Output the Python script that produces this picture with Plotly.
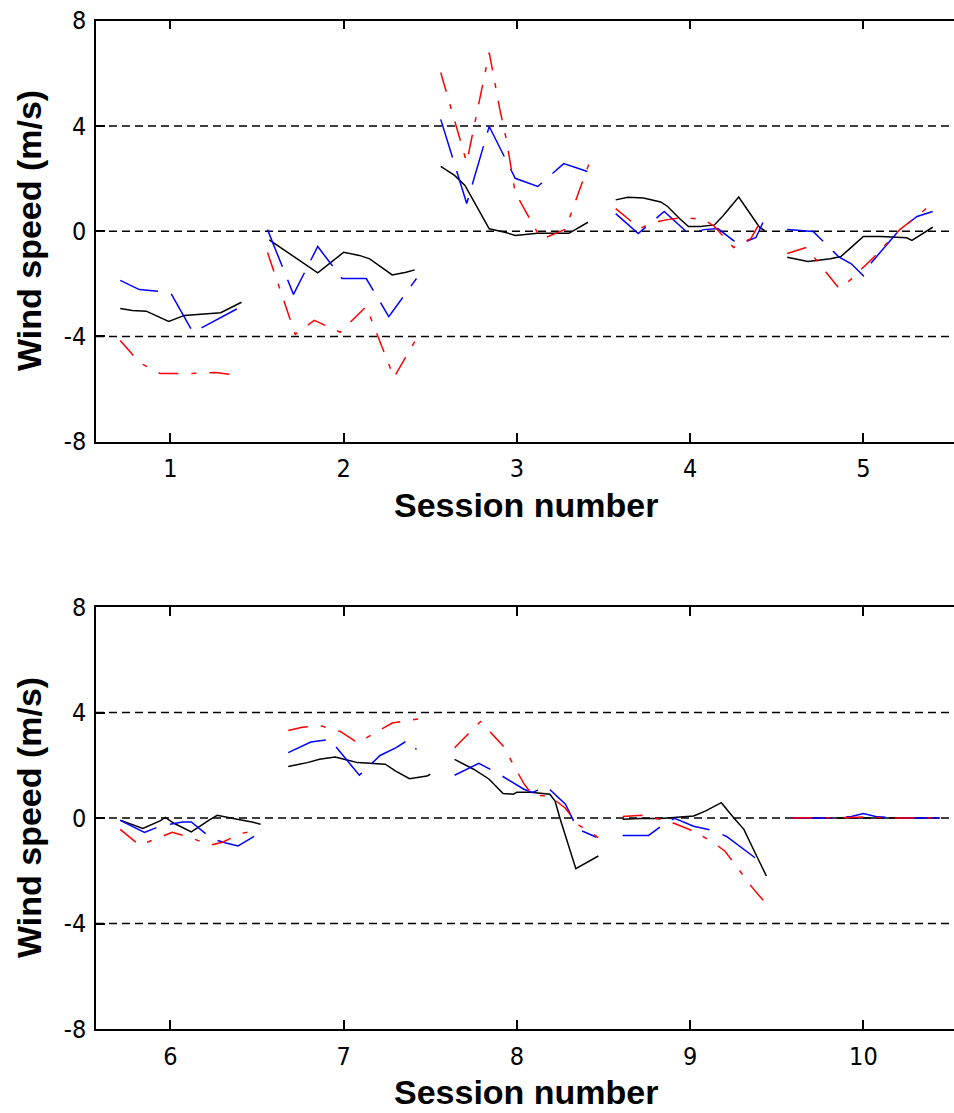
import plotly.graph_objects as go

# ---------------- data (session number on x, wind speed m/s on y) ----------------
# Top panel: sessions 1-5
S1 = {
    "black": ([0.71, 0.78, 0.86, 0.99, 1.08, 1.29, 1.41], [-2.94, -3.01, -3.04, -3.43, -3.20, -3.10, -2.70]),
    "blue": ([0.71, 0.82, 1.00, 1.13, 1.41], [-1.87, -2.22, -2.33, -3.85, -2.86]),
    "red": ([0.71, 0.82, 0.94, 1.11, 1.26, 1.40], [-4.15, -4.99, -5.41, -5.41, -5.37, -5.49]),
}
S2 = {
    "black": ([1.57, 1.85, 2.00, 2.09, 2.15, 2.28, 2.36, 2.41], [-0.33, -1.58, -0.80, -0.92, -1.05, -1.66, -1.56, -1.47]),
    "blue": ([1.56, 1.71, 1.85, 1.99, 2.13, 2.26, 2.42], [0.06, -2.40, -0.58, -1.80, -1.80, -3.25, -1.80]),
    "red": ([1.56, 1.72, 1.83, 1.98, 2.13, 2.29, 2.41], [-0.81, -3.92, -3.39, -3.84, -2.86, -5.56, -4.19]),
}
S3 = {
    "black": ([2.56, 2.64, 2.70, 2.80, 2.84, 2.93, 2.99, 3.12, 3.30, 3.41], [2.46, 2.12, 1.74, 0.59, 0.09, -0.04, -0.16, -0.08, -0.08, 0.34]),
    "blue": ([2.56, 2.71, 2.84, 2.99, 3.12, 3.27, 3.41], [4.25, 1.05, 3.98, 2.01, 1.70, 2.57, 2.26]),
    "red": ([2.56, 2.71, 2.84, 2.90, 2.94, 2.99, 3.14, 3.28, 3.36, 3.42], [6.03, 2.61, 6.79, 4.67, 3.45, 1.47, -0.31, 0.07, 1.55, 2.64]),
}
S4 = {
    "black": ([3.57, 3.64, 3.73, 3.83, 3.87, 3.94, 3.99, 4.06, 4.14, 4.19, 4.28, 4.40, 4.43],
              [1.19, 1.29, 1.26, 1.11, 0.94, 0.47, 0.18, 0.18, 0.24, 0.59, 1.30, 0.15, 0.02]),
    "blue": ([3.57, 3.70, 3.85, 3.99, 4.08, 4.16, 4.28, 4.38, 4.42], [0.67, -0.09, 0.75, -0.09, 0.06, 0.10, -0.51, -0.24, 0.33]),
    "red": ([3.57, 3.71, 3.78, 3.87, 3.96, 4.08, 4.14, 4.25, 4.35, 4.42], [0.86, 0.10, 0.33, 0.44, 0.52, 0.44, 0.18, -0.62, -0.28, 0.52]),
}
S5 = {
    "black": ([4.56, 4.68, 4.81, 4.87, 4.92, 5.00, 5.10, 5.25, 5.28, 5.34, 5.40],
              [-0.99, -1.15, -1.05, -0.96, -0.67, -0.20, -0.20, -0.25, -0.35, -0.10, 0.15]),
    "blue": ([4.56, 4.71, 4.86, 4.93, 5.00, 5.04, 5.21, 5.31, 5.40], [0.06, -0.01, -0.99, -1.24, -1.69, -1.24, 0.06, 0.56, 0.75]),
    "red": ([4.56, 4.67, 4.86, 4.92, 5.06, 5.21, 5.33, 5.40], [-0.85, -0.62, -2.18, -1.88, -0.99, 0.06, 0.67, 1.09]),
}
# Bottom panel: sessions 6-10
S6 = {
    "black": ([5.71, 5.84, 5.94, 5.97, 6.02, 6.12, 6.23, 6.27, 6.37, 6.47, 6.52],
              [-0.08, -0.40, -0.11, 0.02, -0.20, -0.53, -0.05, 0.10, -0.03, -0.15, -0.24]),
    "blue": ([5.71, 5.85, 5.94, 6.07, 6.12, 6.24, 6.32, 6.39, 6.52], [-0.09, -0.55, -0.31, -0.15, -0.15, -0.79, -0.95, -1.06, -0.55]),
    "red": ([5.71, 5.82, 5.94, 6.01, 6.11, 6.23, 6.30, 6.41, 6.52], [-0.43, -1.03, -0.73, -0.54, -0.73, -1.03, -0.92, -0.58, -0.46]),
}
S7 = {
    "black": ([6.68, 6.79, 6.86, 6.95, 7.02, 7.08, 7.24, 7.30, 7.38, 7.48, 7.50],
              [1.95, 2.10, 2.23, 2.31, 2.20, 2.10, 2.04, 1.78, 1.49, 1.59, 1.66]),
    "blue": ([6.68, 6.81, 6.92, 7.09, 7.21, 7.30, 7.37, 7.42], [2.48, 2.88, 2.98, 1.62, 2.37, 2.66, 2.95, 2.60]),
    "red": ([6.68, 6.76, 6.86, 6.98, 7.08, 7.28, 7.38, 7.50], [3.32, 3.44, 3.51, 3.28, 2.85, 3.60, 3.70, 3.83]),
}
S8 = {
    "black": ([7.64, 7.75, 7.84, 7.92, 7.98, 8.00, 8.08, 8.19, 8.22, 8.25, 8.34, 8.47],
              [2.22, 1.85, 1.47, 0.93, 0.90, 0.98, 0.98, 0.90, 0.64, -0.05, -1.92, -1.44]),
    "blue": ([7.64, 7.78, 7.88, 8.04, 8.09, 8.17, 8.28, 8.35, 8.46], [1.62, 2.07, 1.73, 1.09, 0.97, 1.20, 0.52, -0.42, -0.73]),
    "red": ([7.64, 7.79, 7.92, 7.98, 8.04, 8.09, 8.19, 8.28, 8.35, 8.47], [2.66, 3.66, 2.73, 2.04, 1.30, 0.87, 0.83, 0.37, -0.24, -0.74]),
}
S9 = {
    "black": ([8.61, 8.71, 8.83, 8.92, 9.02, 9.09, 9.18, 9.25, 9.31, 9.36, 9.44],
              [-0.05, -0.02, -0.02, 0.02, 0.08, 0.27, 0.58, 0.02, -0.43, -1.12, -2.20]),
    "blue": ([8.61, 8.76, 8.84, 8.91, 9.02, 9.13, 9.21, 9.43], [-0.66, -0.66, -0.27, -0.01, -0.31, -0.47, -0.70, -1.78]),
    "red": ([8.61, 8.72, 8.83, 8.91, 9.02, 9.13, 9.20, 9.28, 9.36, 9.44], [0.06, 0.10, -0.05, -0.21, -0.50, -0.92, -1.25, -1.94, -2.65, -3.26]),
}
S10_X = [9.59, 9.70, 9.82, 9.93, 10.00, 10.07, 10.18, 10.30, 10.44]
S10 = {
    "black": (S10_X, [0, 0, 0, 0, 0, 0, 0, 0, 0]),
    "blue": (S10_X, [0, 0, 0, 0.06, 0.17, 0.06, 0, 0, 0]),
    "red": (S10_X, [0, 0, 0, 0.02, 0.04, 0.02, 0, 0, 0]),
}

TOP_SESSIONS = [S1, S2, S3, S4, S5]
BOTTOM_SESSIONS = [S6, S7, S8, S9, S10]
TOP_TICKS = [1, 2, 3, 4, 5]
BOTTOM_TICKS = [6, 7, 8, 9, 10]
Y_TICKS = [-8, -4, 0, 4, 8]
Y_TICK_LABELS = ["-8", "-4", "0", "4", "8"]
REF_LINES = [-4, 0, 4]

# ---------------- styling ----------------
STYLE = {
    "black": dict(color="#000000", width=1.5, dash="solid"),
    "blue": dict(color="#0000ff", width=1.5, dash="40px,14px"),
    "red": dict(color="#ff0000", width=1.5, dash="20px,13px,5px,13px"),
}
TICK_FONT = dict(family="Liberation Sans Narrow, DejaVu Sans Condensed, Arial Narrow, Liberation Sans, Arial",
                 size=25, color="black")
TITLE_FONT = dict(family="Liberation Sans, Arial", size=34, color="black", weight="bold")

fig = go.Figure()

for sessions, xa, ya in [(TOP_SESSIONS, "x", "y"), (BOTTOM_SESSIONS, "x2", "y2")]:
    for s in sessions:
        for key in ["black", "blue", "red"]:
            xs, ys = s[key]
            fig.add_trace(go.Scatter(x=xs, y=ys, mode="lines", line=STYLE[key],
                                     xaxis=xa, yaxis=ya, showlegend=False, hoverinfo="skip"))

shapes = []
for xr, yr in [("x", "y"), ("x2", "y2")]:
    for v in REF_LINES:
        shapes.append(dict(type="line", xref=xr + " domain", yref=yr, x0=0, x1=1, y0=v, y1=v,
                           line=dict(color="black", width=1.6, dash="8px,5px"), layer="below"))

common_x = dict(showgrid=False, zeroline=False, showline=True, linecolor="black", linewidth=1.5,
                mirror="ticks", ticks="inside", ticklen=9, tickwidth=1.5, tickcolor="black",
                tickfont=TICK_FONT, ticklabelstandoff=4, automargin=False)
common_y = dict(showgrid=False, zeroline=False, showline=True, linecolor="black", linewidth=1.5,
                ticks="inside", ticklen=9, tickwidth=1.5, tickcolor="black", tickfont=TICK_FONT,
                tickvals=Y_TICKS, ticktext=Y_TICK_LABELS, range=[-8, 8], ticklabelstandoff=3,
                automargin=False)

PLOT_L = 96
PLOT_W = 954 - PLOT_L


def px_x(px):
    return (px - PLOT_L) / PLOT_W


def px_y(py):
    return 1 - py / 1113


fig.update_layout(
    width=954, height=1113,
    margin=dict(l=PLOT_L, r=0, t=0, b=0, autoexpand=False),
    paper_bgcolor="white", plot_bgcolor="white",
    xaxis=dict(domain=[0, 1], anchor="y", range=[0.57, 5.523], tickvals=TOP_TICKS, **common_x),
    yaxis=dict(domain=[px_y(441.7), px_y(20.7)], anchor="x", **common_y),
    xaxis2=dict(domain=[0, 1], anchor="y2", range=[5.57, 10.523], tickvals=BOTTOM_TICKS, **common_x),
    yaxis2=dict(domain=[px_y(1029), px_y(607)], anchor="x2", **common_y),
    shapes=shapes,
    annotations=[
        dict(text="Session number", xref="paper", yref="paper", x=px_x(526), y=px_y(505), showarrow=False,
             font=TITLE_FONT, xanchor="center", yanchor="middle"),
        dict(text="Session number", xref="paper", yref="paper", x=px_x(526), y=px_y(1092), showarrow=False,
             font=TITLE_FONT, xanchor="center", yanchor="middle"),
        dict(text="Wind speed (m/s)", xref="paper", yref="paper", x=px_x(29), y=px_y(231), showarrow=False,
             font=TITLE_FONT, textangle=-90, xanchor="center", yanchor="middle"),
        dict(text="Wind speed (m/s)", xref="paper", yref="paper", x=px_x(29), y=px_y(818), showarrow=False,
             font=TITLE_FONT, textangle=-90, xanchor="center", yanchor="middle"),
    ],
)

fig.write_html("out.html")
